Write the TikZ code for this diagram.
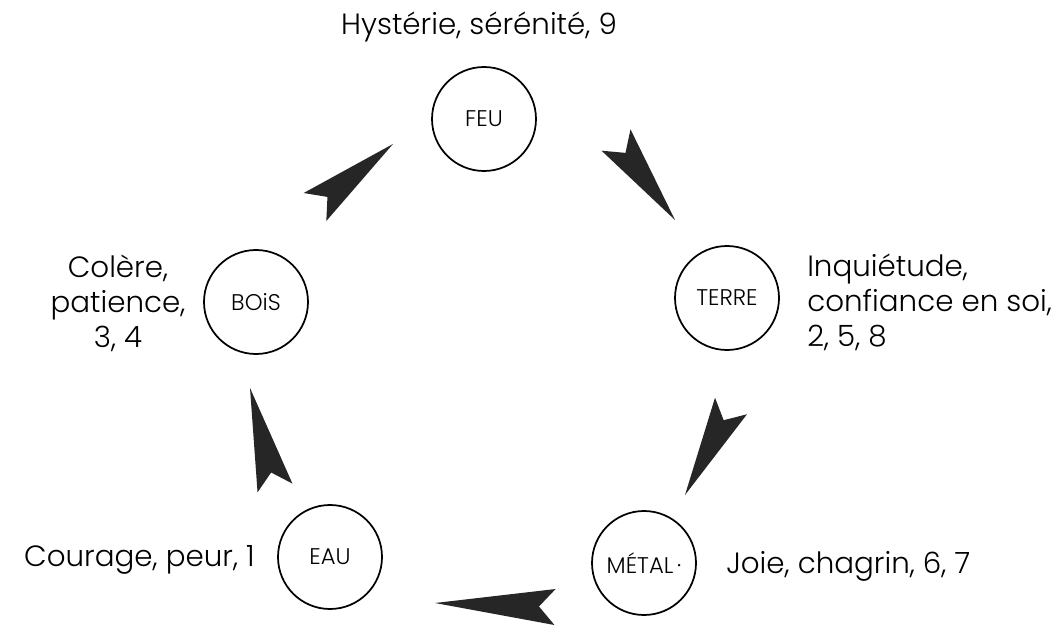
\documentclass[tikz,border=0pt]{standalone}
\usepackage{fontspec}
\setmainfont{Poppins}[UprightFont=* Light]
\usetikzlibrary{calc}
\tikzset{
  element/.style={draw,circle,line width=1.3pt,minimum size=78pt,inner sep=0pt,font=\fontsize{17}{20}\selectfont},
  legende/.style={font=\fontsize{22}{26.25}\selectfont,inner sep=0pt}
}
\begin{document}
\begin{tikzpicture}[x=0.75pt,y=-0.75pt]
    \useasboundingbox (0,0) rectangle (1063,627);
    \node[element] (feu) at (484,119) {FEU};
    \node[element] (bois) at (256,302) {BOiS};
    \node[element] (terre) at (727,298) {TERRE};
    \node[element] (eau) at (330,557) {EAU};
    \node[element] (metal) at (644,563) {MÉTAL\,\textperiodcentered};
    \node[legende,anchor=base] (lfeu) at (479,35) {Hystérie, sérénité, 9};
    \node[legende,align=center] (lbois) at (118,303) {Colère,\\patience,\\3, 4};
    \node[legende,align=left,anchor=west] (lterre) at (807,302) {Inquiétude,\\confiance en soi,\\2, 5, 8};
    \node[legende,anchor=east] (leau) at (255,560) {Courage, peur, 1};
    \node[legende,anchor=west] (lmetal) at (726,566) {Joie, chagrin, 6, 7};
    \coordinate (q1) at (315,207); \coordinate (p1) at (393,144);
    \coordinate (q2) at (616,140); \coordinate (p2) at (675,220);
    \coordinate (q3) at (731,406); \coordinate (p3) at (685,495);
    \coordinate (q4) at (555,607); \coordinate (p4) at (435,603);
    \coordinate (q5) at (275,488); \coordinate (p5) at (250,388);
    \foreach \i in {1,...,5}
    \fill[black!85] ($(q\i)!13.5pt!90:(p\i)$) -- (p\i) -- ($(q\i)!13.5pt!-90:(p\i)$) -- ($(q\i)!12pt!(p\i)$) -- cycle;
\end{tikzpicture}
\end{document}
